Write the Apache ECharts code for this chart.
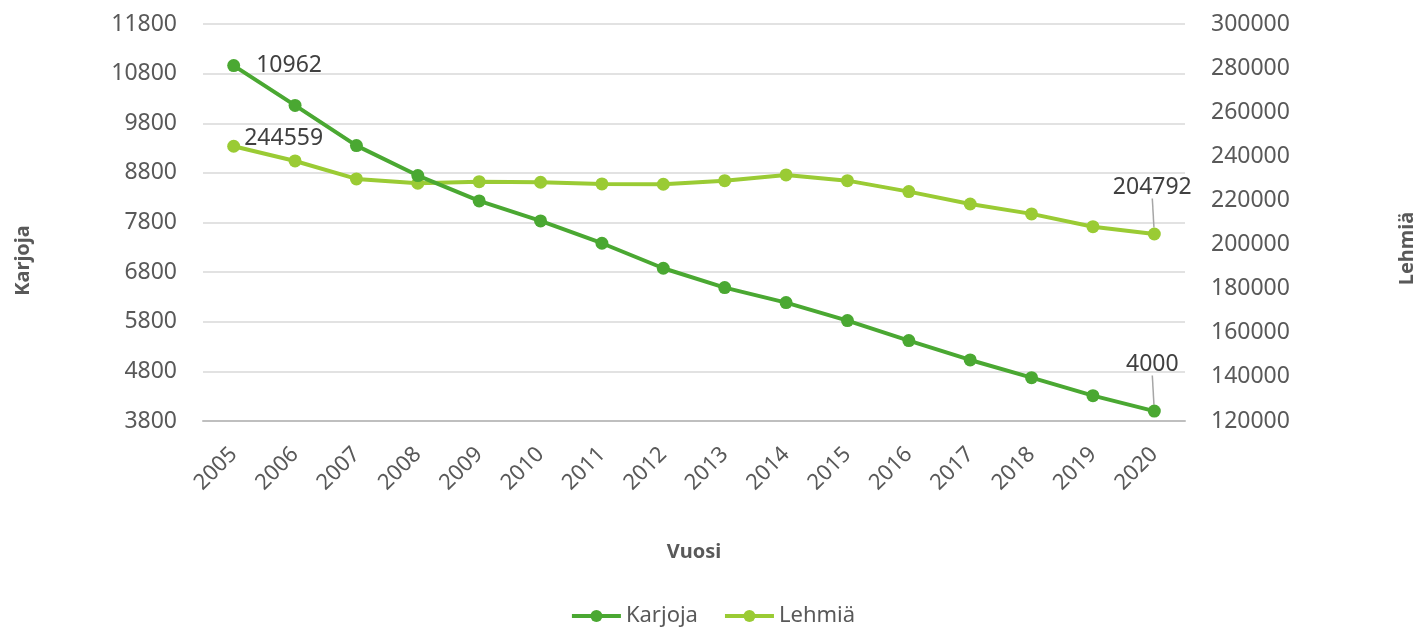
<!DOCTYPE html>
<html lang="fi">
<head>
  <meta charset="UTF-8">
  <title>Karjoja ja lehmiä</title>
  <script src="https://cdn.jsdelivr.net/npm/echarts@6/dist/echarts.min.js"></script>
  <style>
    html, body { margin: 0; padding: 0; background: #fff; }
    #chart { width: 1425px; height: 630px; }
  </style>
</head>
<body>
  <div id="chart"></div>
  <script>
    // data
    const years = ['2005', '2006', '2007', '2008', '2009', '2010', '2011', '2012',
      '2013', '2014', '2015', '2016', '2017', '2018', '2019', '2020'];
    const karjoja = [10962, 10160, 9350, 8746, 8235, 7832, 7382, 6878,
      6488, 6186, 5823, 5420, 5030, 4674, 4311, 4000];
    const lehmia = [244559, 237900, 229750, 227800, 228500, 228250, 227480, 227330,
      228980, 231560, 228980, 224000, 218400, 213900, 208100, 204792];

    const txt = '#595959';
    const font = 'Noto Sans';

    let chart = echarts.init(document.getElementById('chart'));

    // only first and last point get a label, leader line only on the last one
    function itemFor(arr, v, i) {
      let last = i === arr.length - 1;
      return {
        value: v,
        label: { show: i === 0 || last },
        labelLine: { show: last }
      };
    }

    let option = {
      textStyle: { fontFamily: font },
      grid: { left: 203, right: 238, top: 24, bottom: 209 },
      legend: {
        bottom: -2,
        left: 'center',
        itemWidth: 49,
        itemHeight: 15,
        itemGap: 25,
        lineStyle: { width: 4 },
        textStyle: { color: txt, fontSize: 22, fontFamily: font },
        data: ['Karjoja', 'Lehmiä']
      },
      xAxis: {
        type: 'category',
        data: years,
        boundaryGap: true,
        name: 'Vuosi',
        nameLocation: 'middle',
        nameGap: 121,
        nameTextStyle: { color: txt, fontSize: 20, fontWeight: 'bold' },
        axisTick: { show: false },
        axisLine: { lineStyle: { color: '#bfbfbf', width: 2 } },
        axisLabel: { color: txt, fontSize: 22, rotate: 45, margin: 30, interval: 0 }
      },
      yAxis: [
        {
          type: 'value',
          min: 3800, max: 11800, interval: 1000,
          name: 'Karjoja',
          nameLocation: 'middle',
          nameGap: 170,
          nameRotate: 90,
          nameTextStyle: { color: txt, fontSize: 20, fontWeight: 'bold', padding: [0, 76, 0, 0] },
          axisLine: { show: false },
          axisTick: { show: false },
          axisLabel: { color: txt, fontSize: 23, margin: 26, formatter: v => String(v) },
          splitLine: { lineStyle: { color: '#d9d9d9', width: 1.5 } }
        },
        {
          type: 'value',
          min: 120000, max: 300000, interval: 20000,
          name: 'Lehmiä',
          nameLocation: 'middle',
          nameGap: 212,
          nameRotate: 90,
          nameTextStyle: { color: txt, fontSize: 20, fontWeight: 'bold', padding: [0, 52, 0, 0] },
          axisLine: { show: false },
          axisTick: { show: false },
          axisLabel: { color: txt, fontSize: 23, margin: 26, formatter: v => String(v) },
          splitLine: { show: false }
        }
      ],
      series: [
        {
          name: 'Karjoja',
          type: 'line',
          yAxisIndex: 0,
          data: karjoja.map((v, i) => itemFor(karjoja, v, i)),
          symbol: 'circle',
          symbolSize: 13,
          lineStyle: { width: 4, color: '#4aa832' },
          itemStyle: { color: '#4aa832' },
          label: { position: 'right', color: '#404040', fontSize: 23, distance: 16 },
          labelLine: { lineStyle: { color: '#a6a6a6', width: 1.5 } },
          z: 3
        },
        {
          name: 'Lehmiä',
          type: 'line',
          yAxisIndex: 1,
          data: lehmia.map((v, i) => itemFor(lehmia, v, i)),
          symbol: 'circle',
          symbolSize: 13,
          lineStyle: { width: 4, color: '#9acb34' },
          itemStyle: { color: '#9acb34' },
          label: { position: 'right', color: '#404040', fontSize: 23, distance: 4 },
          labelLine: { lineStyle: { color: '#a6a6a6', width: 1.5 } },
          z: 2
        }
      ]
    };

    chart.setOption(option);

    // move labels: the last ones sit above the point with a leader line
    chart.setOption({
      series: [
        {
          labelLayout: function (p) {
            if (p.dataIndex === karjoja.length - 1) {
              return { x: p.rect.x + p.rect.width / 2 - 2, y: p.rect.y - 29, align: 'center', verticalAlign: 'bottom' };
            }
            return {};
          }
        },
        {
          labelLayout: function (p) {
            if (p.dataIndex === 0) {
              return { dy: -8 };
            }
            if (p.dataIndex === lehmia.length - 1) {
              return { x: p.rect.x + p.rect.width / 2 - 2, y: p.rect.y - 29, align: 'center', verticalAlign: 'bottom' };
            }
            return {};
          }
        }
      ]
    });

    window.addEventListener('resize', function () {
      chart.resize();
    });
  </script>
</body>
</html>
